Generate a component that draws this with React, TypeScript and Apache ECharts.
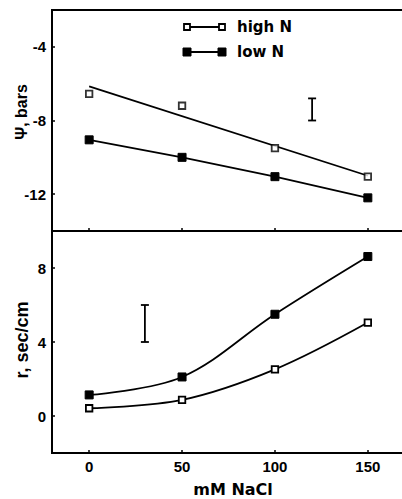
import React, { useEffect, useRef } from "react";
import * as echarts from "echarts";

const NACL = [0, 50, 100, 150];
const PSI_HIGH_N = [-6.55, -7.2, -9.5, -11.05];
const PSI_HIGH_N_FIT_X = [0, 150];
const PSI_HIGH_N_FIT = [-6.15, -11.0];
const PSI_LOW_N = [-9.05, -10.0, -11.05, -12.2];
const R_HIGH_N = [0.42, 0.87, 2.52, 5.05];
const R_LOW_N = [1.14, 2.11, 5.5, 8.62];
const PSI_ERR = [120, -8.0, -6.8];
const R_ERR = [30, 4.0, 6.0];
const X_TICKS = [0, 50, 100, 150];
const PSI_TICKS = [-12, -8, -4];
const R_TICKS = [0, 4, 8];
const X_NAME = "mM NaCl";
const PSI_NAME = "Ψ, bars";
const R_NAME = "r, sec/cm";
const LEGEND = ["high N", "low N"];

const TICK_FONT = "'Liberation Sans', Arial, sans-serif";
const WIDE_FONT = "'DejaVu Sans', Verdana, sans-serif";

const pairs = (xs: number[], ys: number[]) => xs.map((x, i) => [x, ys[i]]);

const errRender = (params: any, api: any) => {
  const x = api.value(0);
  const a = api.coord([x, api.value(1)]);
  const b = api.coord([x, api.value(2)]);
  const w = 4;
  const st = { stroke: "#000", lineWidth: 1.8 };
  return {
    type: "group",
    children: [
      { type: "line", shape: { x1: a[0], y1: a[1], x2: b[0], y2: b[1] }, style: st },
      { type: "line", shape: { x1: a[0] - w, y1: a[1], x2: a[0] + w, y2: a[1] }, style: st },
      { type: "line", shape: { x1: b[0] - w, y1: b[1], x2: b[0] + w, y2: b[1] }, style: st },
    ],
  };
};

export default function App() {
  const ref = useRef<HTMLDivElement>(null);
  useEffect(() => {
    const chart = echarts.init(ref.current!, null, { renderer: "svg" });
    const xAxisBase = (gridIndex: number, labels: boolean) => ({
      type: "value",
      gridIndex,
      min: -20,
      max: 170,
      splitLine: { show: false },
      axisLine: { show: false, onZero: false },
      axisTick: { show: true, inside: true, length: 3, customValues: X_TICKS, lineStyle: { color: "#000", width: 1.5 } },
      axisLabel: {
        show: labels,
        customValues: X_TICKS,
        margin: 6,
        color: "#000",
        fontWeight: "bold",
        fontSize: 15,
        fontFamily: TICK_FONT,
      },
    });
    const yAxisBase = (gridIndex: number, min: number, max: number, ticks: number[]) => ({
      type: "value",
      gridIndex,
      min,
      max,
      splitLine: { show: false },
      axisLine: { show: false, onZero: false },
      axisTick: { show: true, inside: true, length: 3, customValues: ticks, lineStyle: { color: "#000", width: 1.5 } },
      axisLabel: {
        customValues: ticks,
        margin: 6,
        color: "#000",
        fontWeight: "bold",
        fontSize: 15,
        fontFamily: TICK_FONT,
      },
    });
    const openSq = { color: "#fff", borderColor: "#000", borderWidth: 1.8 };
    const filledSq = { color: "#000", borderColor: "#000", borderWidth: 1 };
    const lineSt = { color: "#000", width: 1.8 };

    chart.setOption({
      animation: false,
      backgroundColor: "#fff",
      grid: [
        { left: 52, top: 10, width: 353, height: 221, show: true, borderColor: "#000", borderWidth: 2, backgroundColor: "transparent" },
        { left: 52, top: 231, width: 353, height: 222, show: true, borderColor: "#000", borderWidth: 2, backgroundColor: "transparent" },
      ],
      xAxis: [xAxisBase(0, false), xAxisBase(1, true)],
      yAxis: [yAxisBase(0, -14, -2, PSI_TICKS), yAxisBase(1, -2, 10, R_TICKS)],
      series: [
        {
          name: LEGEND[0] + " fit",
          type: "line",
          xAxisIndex: 0,
          yAxisIndex: 0,
          data: pairs(PSI_HIGH_N_FIT_X, PSI_HIGH_N_FIT),
          showSymbol: false,
          symbol: "none",
          lineStyle: lineSt,
        },
        {
          name: LEGEND[0],
          type: "scatter",
          xAxisIndex: 0,
          yAxisIndex: 0,
          data: pairs(NACL, PSI_HIGH_N),
          symbol: "rect",
          symbolSize: 6.5,
          itemStyle: openSq,
          z: 5,
        },
        {
          name: LEGEND[1],
          type: "line",
          xAxisIndex: 0,
          yAxisIndex: 0,
          data: pairs(NACL, PSI_LOW_N),
          symbol: "rect",
          symbolSize: 8,
          showAllSymbol: true,
          itemStyle: filledSq,
          lineStyle: lineSt,
        },
        {
          name: "err top",
          type: "custom",
          xAxisIndex: 0,
          yAxisIndex: 0,
          data: [PSI_ERR],
          renderItem: errRender,
        },
        {
          name: LEGEND[0] + " r",
          type: "line",
          xAxisIndex: 1,
          yAxisIndex: 1,
          data: pairs(NACL, R_HIGH_N),
          smooth: 0.35,
          symbol: "rect",
          symbolSize: 6.5,
          itemStyle: openSq,
          lineStyle: lineSt,
          z: 5,
        },
        {
          name: LEGEND[1] + " r",
          type: "line",
          xAxisIndex: 1,
          yAxisIndex: 1,
          data: pairs(NACL, R_LOW_N),
          smooth: 0.35,
          symbol: "rect",
          symbolSize: 8,
          itemStyle: filledSq,
          lineStyle: lineSt,
        },
        {
          name: "err bottom",
          type: "custom",
          xAxisIndex: 1,
          yAxisIndex: 1,
          data: [R_ERR],
          renderItem: errRender,
        },
      ],
      graphic: [
        {
          type: "text",
          x: 29,
          y: 112,
          rotation: Math.PI / 2,
          style: { text: PSI_NAME, fill: "#000", font: `bold 16px ${TICK_FONT}`, align: "center", verticalAlign: "bottom" },
        },
        {
          type: "text",
          x: 31,
          y: 340,
          rotation: Math.PI / 2,
          style: { text: R_NAME, fill: "#000", font: `bold 18px ${TICK_FONT}`, align: "center", verticalAlign: "bottom" },
        },
        {
          type: "text",
          x: 233,
          y: 489,
          style: { text: X_NAME, fill: "#000", font: `bold 16px ${WIDE_FONT}`, align: "center", verticalAlign: "middle" },
        },
        { type: "line", shape: { x1: 187, y1: 27, x2: 222, y2: 27 }, style: { stroke: "#000", lineWidth: 1.8 } },
        { type: "rect", shape: { x: 184, y: 24, width: 6, height: 6 }, style: { fill: "#fff", stroke: "#000", lineWidth: 1.8 } },
        { type: "rect", shape: { x: 219, y: 24, width: 6, height: 6 }, style: { fill: "#fff", stroke: "#000", lineWidth: 1.8 } },
        {
          type: "text",
          x: 237,
          y: 27,
          style: { text: LEGEND[0], fill: "#000", font: `bold 15px ${WIDE_FONT}`, align: "left", verticalAlign: "middle" },
        },
        { type: "line", shape: { x1: 187, y1: 52, x2: 222, y2: 52 }, style: { stroke: "#000", lineWidth: 1.8 } },
        { type: "rect", shape: { x: 183, y: 48, width: 8, height: 8 }, style: { fill: "#000", stroke: "#000", lineWidth: 1 } },
        { type: "rect", shape: { x: 218, y: 48, width: 8, height: 8 }, style: { fill: "#000", stroke: "#000", lineWidth: 1 } },
        {
          type: "text",
          x: 237,
          y: 52,
          style: { text: LEGEND[1], fill: "#000", font: `bold 15px ${WIDE_FONT}`, align: "left", verticalAlign: "middle" },
        },
      ],
    });
    return () => chart.dispose();
  }, []);
  return (
    <div
      ref={ref}
      style={{ position: "fixed", left: 0, top: 0, width: 410, height: 499, background: "#fff" }}
    />
  );
}
